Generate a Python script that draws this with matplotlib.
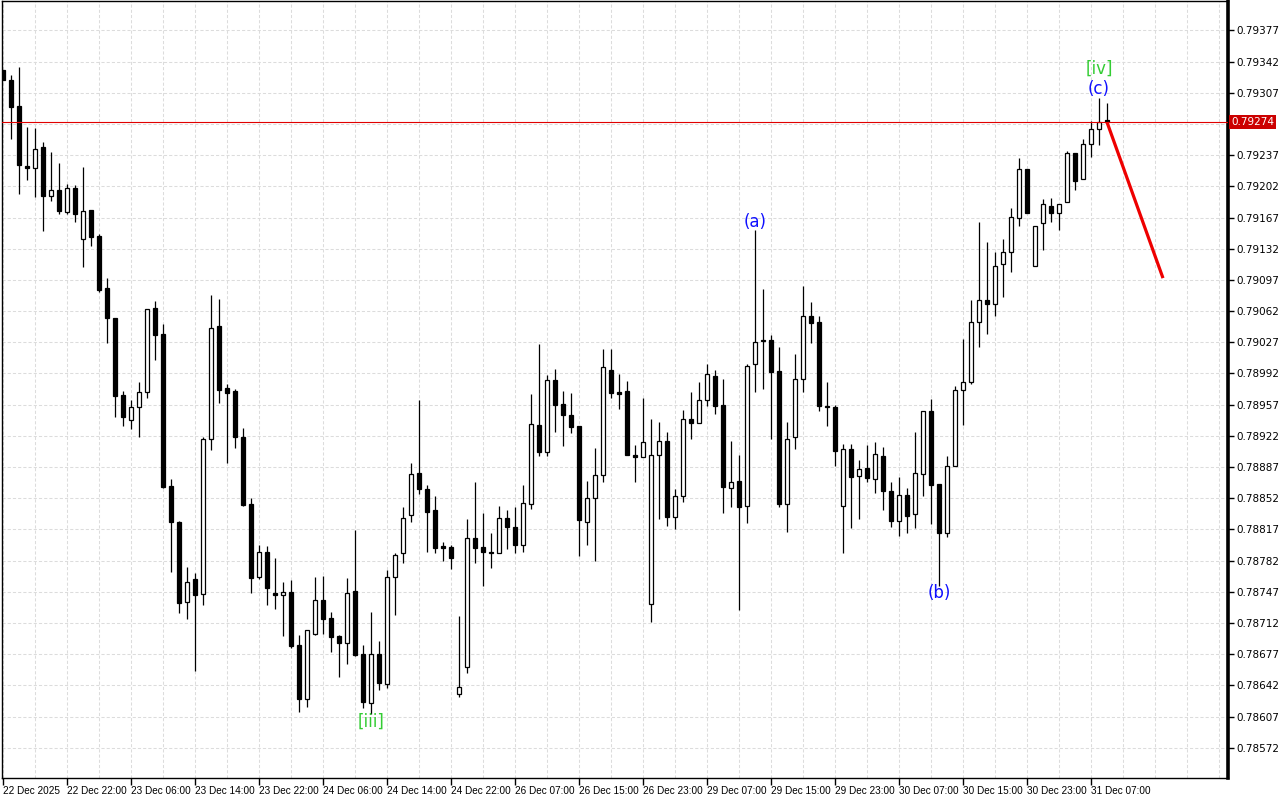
import numpy as np
import matplotlib
matplotlib.use('Agg')
import matplotlib.pyplot as plt
from matplotlib.transforms import blended_transform_factory

# hourly candles, bar 0 = 22 Dec 2025 14:00
opens = [0.79333, 0.79321, 0.79292, 0.79225, 0.79223, 0.79246, 0.79191, 0.79198, 0.79173, 0.79200,
         0.79143, 0.79175, 0.79146, 0.79088, 0.79054, 0.78968, 0.78940, 0.78954, 0.78971, 0.79066,
         0.79036, 0.78866, 0.78825, 0.78736, 0.78761, 0.78745, 0.78918, 0.79045, 0.78976, 0.78972,
         0.78921, 0.78845, 0.78764, 0.78792, 0.78746, 0.78743, 0.78747, 0.78687, 0.78627, 0.78700,
         0.78738, 0.78718, 0.78697, 0.78690, 0.78748, 0.78677, 0.78622, 0.78677, 0.78643, 0.78764,
         0.78790, 0.78833, 0.78880, 0.78862, 0.78839, 0.78798, 0.78797, 0.78632, 0.78663, 0.78807,
         0.78797, 0.78792, 0.78790, 0.78830, 0.78820, 0.78800, 0.78846, 0.78934, 0.78904, 0.78985,
         0.78958, 0.78945, 0.78933, 0.78825, 0.78852, 0.78878, 0.78996, 0.78971, 0.78972, 0.78900,
         0.78898, 0.78733, 0.78900, 0.78916, 0.78831, 0.78854, 0.78941, 0.78936, 0.78962, 0.78989,
         0.78957, 0.78864, 0.78871, 0.78843, 0.79003, 0.79028, 0.79029, 0.78995, 0.78846, 0.78921,
         0.78986, 0.79056, 0.79050, 0.78956, 0.78954, 0.78843, 0.78907, 0.78877, 0.78886, 0.78874,
         0.78899, 0.78860, 0.78826, 0.78856, 0.78834, 0.78879, 0.78950, 0.78868, 0.78813, 0.78888,
         0.78974, 0.78982, 0.79050, 0.79074, 0.79070, 0.79115, 0.79128, 0.79167, 0.79222, 0.79113,
         0.79161, 0.79180, 0.79172, 0.79184, 0.79239, 0.79210, 0.79249, 0.79266, 0.79277]
highs = [0.79333, 0.79327, 0.79336, 0.79269, 0.79268, 0.79252, 0.79240, 0.79228, 0.79205, 0.79203,
         0.79224, 0.79175, 0.79148, 0.79099, 0.79054, 0.78972, 0.78962, 0.78982, 0.79064, 0.79073,
         0.79048, 0.78874, 0.78826, 0.78775, 0.78768, 0.78921, 0.79080, 0.79076, 0.78980, 0.78975,
         0.78931, 0.78852, 0.78799, 0.78798, 0.78785, 0.78758, 0.78760, 0.78698, 0.78704, 0.78764,
         0.78765, 0.78724, 0.78699, 0.78763, 0.78816, 0.78687, 0.78724, 0.78692, 0.78771, 0.78790,
         0.78842, 0.78891, 0.78962, 0.78867, 0.78854, 0.78803, 0.78799, 0.78720, 0.78829, 0.78870,
         0.78835, 0.78813, 0.78843, 0.78839, 0.78842, 0.78867, 0.78969, 0.79025, 0.78990, 0.78997,
         0.78972, 0.78970, 0.78933, 0.78871, 0.78908, 0.79019, 0.79019, 0.78991, 0.78984, 0.78912,
         0.78965, 0.78941, 0.78938, 0.78926, 0.78862, 0.78951, 0.78971, 0.78982, 0.79003, 0.78996,
         0.78986, 0.78916, 0.78900, 0.79003, 0.79153, 0.79087, 0.79035, 0.79022, 0.78938, 0.79014,
         0.79090, 0.79072, 0.79056, 0.78982, 0.78957, 0.78913, 0.78913, 0.78895, 0.78912, 0.78915,
         0.78909, 0.78870, 0.78876, 0.78863, 0.78926, 0.78950, 0.78963, 0.78868, 0.78899, 0.78978,
         0.79031, 0.79075, 0.79162, 0.79139, 0.79128, 0.79143, 0.79178, 0.79234, 0.79222, 0.79158,
         0.79188, 0.79189, 0.79182, 0.79242, 0.79239, 0.79255, 0.79275, 0.79301, 0.79295]
lows = [0.79321, 0.79255, 0.79193, 0.79209, 0.79190, 0.79152, 0.79185, 0.79171, 0.79171, 0.79162,
        0.79111, 0.79135, 0.79083, 0.79026, 0.78943, 0.78933, 0.78930, 0.78921, 0.78965, 0.79007,
        0.78864, 0.78769, 0.78723, 0.78716, 0.78658, 0.78732, 0.78906, 0.78959, 0.78892, 0.78908,
        0.78843, 0.78746, 0.78761, 0.78732, 0.78728, 0.78697, 0.78684, 0.78612, 0.78618, 0.78699,
        0.78700, 0.78679, 0.78651, 0.78666, 0.78675, 0.78617, 0.78610, 0.78637, 0.78639, 0.78721,
        0.78779, 0.78825, 0.78857, 0.78792, 0.78791, 0.78782, 0.78772, 0.78629, 0.78656, 0.78779,
        0.78753, 0.78774, 0.78790, 0.78795, 0.78791, 0.78792, 0.78840, 0.78899, 0.78899, 0.78926,
        0.78911, 0.78925, 0.78787, 0.78800, 0.78781, 0.78870, 0.78964, 0.78952, 0.78900, 0.78870,
        0.78898, 0.78713, 0.78829, 0.78821, 0.78817, 0.78848, 0.78918, 0.78936, 0.78956, 0.78947,
        0.78835, 0.78842, 0.78726, 0.78824, 0.78971, 0.78975, 0.78918, 0.78842, 0.78814, 0.78907,
        0.78971, 0.79026, 0.78950, 0.78933, 0.78888, 0.78790, 0.78819, 0.78829, 0.78870, 0.78858,
        0.78839, 0.78820, 0.78810, 0.78813, 0.78819, 0.78855, 0.78823, 0.78754, 0.78809, 0.78888,
        0.78934, 0.78980, 0.79022, 0.79036, 0.79056, 0.79078, 0.79106, 0.79157, 0.79172, 0.79113,
        0.79130, 0.79162, 0.79153, 0.79184, 0.79198, 0.79210, 0.79235, 0.79248, 0.79274]
closes = [0.79321, 0.79291, 0.79226, 0.79223, 0.79244, 0.79191, 0.79198, 0.79174, 0.79200, 0.79171,
          0.79174, 0.79145, 0.79086, 0.79054, 0.78967, 0.78943, 0.78954, 0.78971, 0.79064, 0.79035,
          0.78865, 0.78825, 0.78734, 0.78758, 0.78743, 0.78918, 0.79043, 0.78974, 0.78970, 0.78921,
          0.78844, 0.78763, 0.78792, 0.78751, 0.78743, 0.78747, 0.78686, 0.78627, 0.78704, 0.78738,
          0.78717, 0.78696, 0.78689, 0.78746, 0.78676, 0.78623, 0.78677, 0.78645, 0.78764, 0.78788,
          0.78830, 0.78879, 0.78862, 0.78836, 0.78796, 0.78796, 0.78785, 0.78640, 0.78807, 0.78796,
          0.78792, 0.78791, 0.78830, 0.78820, 0.78800, 0.78847, 0.78935, 0.78904, 0.78985, 0.78957,
          0.78945, 0.78932, 0.78827, 0.78852, 0.78878, 0.78999, 0.78970, 0.78969, 0.78900, 0.78898,
          0.78915, 0.78900, 0.78916, 0.78831, 0.78854, 0.78941, 0.78936, 0.78962, 0.78991, 0.78956,
          0.78865, 0.78870, 0.78842, 0.79000, 0.79027, 0.79030, 0.78994, 0.78845, 0.78919, 0.78986,
          0.79056, 0.79049, 0.78956, 0.78954, 0.78905, 0.78907, 0.78876, 0.78885, 0.78875, 0.78902,
          0.78860, 0.78826, 0.78856, 0.78832, 0.78880, 0.78950, 0.78867, 0.78813, 0.78888, 0.78974,
          0.78982, 0.79050, 0.79074, 0.79070, 0.79113, 0.79128, 0.79168, 0.79222, 0.79172, 0.79158,
          0.79182, 0.79172, 0.79182, 0.79239, 0.79208, 0.79249, 0.79266, 0.79274, 0.79274]

tick_bars = [0, 8, 16, 24, 32, 40, 48, 56, 64, 72, 80, 88, 96, 104, 112, 120, 128, 136]
tick_labels = ['22 Dec 2025', '22 Dec 22:00', '23 Dec 06:00', '23 Dec 14:00', '23 Dec 22:00',
               '24 Dec 06:00', '24 Dec 14:00', '24 Dec 22:00', '26 Dec 07:00', '26 Dec 15:00',
               '26 Dec 23:00', '29 Dec 07:00', '29 Dec 15:00', '29 Dec 23:00', '30 Dec 07:00',
               '30 Dec 15:00', '30 Dec 23:00', '31 Dec 07:00']
price_ticks = [0.78572, 0.78607, 0.78642, 0.78677, 0.78712, 0.78747, 0.78782, 0.78817, 0.78852,
               0.78887, 0.78922, 0.78957, 0.78992, 0.79027, 0.79062, 0.79097, 0.79132, 0.79167,
               0.79202, 0.79237, 0.79272, 0.79307, 0.79342, 0.79377]

# wave marks: bar, text, colour, offset in px (+ above high, - below low)
wave_bars = [46, 94, 117, 137, 137]
wave_text = ['[iii]', '(a)', '(b)', '(c)', '[iv]']
wave_colors = ['#33cc33', '#1010ff', '#1010ff', '#1010ff', '#33cc33']
wave_offsets = [-8, 8, -7, 9, 29]

# projected move
forecast_bars = [138, 145]
forecast_prices = [0.79274, 0.79099]

o = np.array(opens)
h = np.array(highs)
l = np.array(lows)
c = np.array(closes)
x = np.arange(len(o))
up = c >= o

fig = plt.figure(figsize=(12.8, 8), dpi=100)
ax = fig.add_axes([2 / 1280, 22 / 800, 1226 / 1280, 777 / 800])
ax.set_xlim(-0.125, 153.125)
ax.set_ylim(0.78538, 0.79410)

ax.vlines(x, l, h, color='black', lw=0.9, zorder=2)
ax.bar(x[up], (c - o)[up], bottom=o[up], width=0.56, color='white', edgecolor='black', lw=0.9, zorder=3)
ax.bar(x[~up], (o - c)[~up], bottom=c[~up], width=0.56, color='black', edgecolor='black', lw=0.9, zorder=3)

ax.axhline(closes[-1], color='#e00000', lw=0.8, zorder=4)
ax.plot(forecast_bars, forecast_prices, color='#ee0000', lw=2.3, zorder=5, solid_capstyle='butt')

for b, t, col, off in zip(wave_bars, wave_text, wave_colors, wave_offsets):
    yv = h[b] if off > 0 else l[b]
    ax.annotate(t, (b, yv), xytext=(0, off), textcoords='offset pixels',
                ha='center', va='center', color=col, fontsize=12)

ax.set_xticks(tick_bars)
ax.set_xticklabels(tick_labels, ha='left', fontsize=7.2, family=['Liberation Sans', 'DejaVu Sans'])
ax.set_xticks(range(0, 154, 4), minor=True)
ax.set_yticks(price_ticks)
ax.set_yticklabels(['' if abs(p - 0.79272) < 1e-7 else '%.5f' % p for p in price_ticks], fontsize=7.5)
ax.yaxis.tick_right()
ax.tick_params(axis='x', which='major', direction='out', length=5, width=1, pad=1)
ax.tick_params(axis='x', which='minor', length=0)
ax.tick_params(axis='y', direction='out', length=4, width=1, pad=2)

ax.grid(True, which='both', axis='x', color='#dcdcdc', ls=(0, (3, 2)), lw=0.75)
ax.grid(True, which='major', axis='y', color='#dcdcdc', ls=(0, (3, 2)), lw=0.75)
ax.set_axisbelow(True)

for s in ['left', 'top', 'bottom']:
    ax.spines[s].set_linewidth(1.0)
ax.spines['right'].set_linewidth(2.6)

tr = blended_transform_factory(ax.transAxes, ax.transData)
ax.text(1.0025, closes[-1], '%.5f' % closes[-1], transform=tr, color='white', fontsize=7.5,
        ha='left', va='center', bbox=dict(boxstyle='square,pad=0.18', fc='#cc0000', ec='none'))

fig.savefig('out.png', dpi=100)
